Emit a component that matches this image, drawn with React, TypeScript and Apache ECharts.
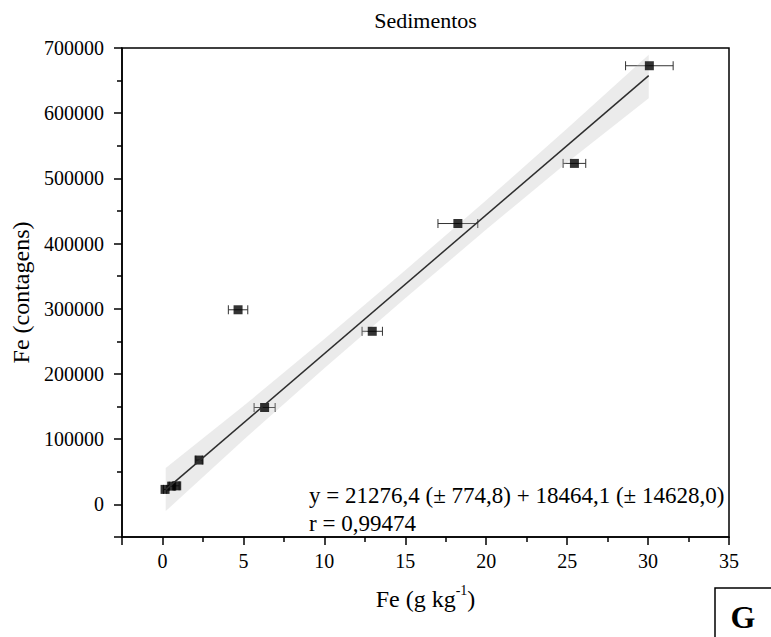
import React, { useEffect, useRef } from "react";
import * as echarts from "echarts";

// ---- data ----
const xVals = [0.16, 0.57, 0.88, 2.26, 4.67, 6.31, 12.96, 18.25, 25.45, 30.08];
const yVals = [23000, 28000, 28500, 68000, 298500, 148600, 265500, 430800, 523000, 672800];
const xErr = [0.1, 0.15, 0.15, 0.2, 0.6, 0.65, 0.63, 1.23, 0.7, 1.47];

const fitX = [0.2, 30.04];
const fitY = [22700, 657600];

const bandX = [0.2, 5, 10, 15, 20, 25, 30.04];
const bandUpper = [55700, 150800, 253700, 359100, 466500, 576400, 689700];
const bandLower = [-10300, 98800, 208700, 316100, 421500, 524400, 623000];

const titleText = "Sedimentos";
const eqLine1 = "y = 21276,4 (\u00B1 774,8) + 18464,1 (\u00B1 14628,0)";
const eqLine2 = "r = 0,99474";
const xName = "Fe (g kg";
const xNameSup = "-1";
const yName = "Fe (contagens)";
const panelLetter = "G";

const FONT = "Liberation Serif";

export default function App() {
  const ref = useRef<HTMLDivElement>(null);
  useEffect(() => {
    if (!ref.current) return;
    const chart = echarts.init(ref.current, undefined, { renderer: "svg" });
    const axisLine = { show: true, onZero: false, lineStyle: { color: "#000", width: 1.5 } };
    chart.setOption({
      animation: false,
      backgroundColor: "#fff",
      textStyle: { fontFamily: FONT },
      grid: {
        left: 122,
        right: 42,
        top: 48,
        bottom: 100,
        show: true,
        borderColor: "#000",
        borderWidth: 1.5,
        backgroundColor: "transparent",
      },
      xAxis: {
        type: "value",
        min: -2.5,
        max: 35,
        splitNumber: 8,
        axisLine,
        axisTick: { show: true, inside: false, length: 8, lineStyle: { color: "#000", width: 1.5 } },
        minorTick: { show: true, splitNumber: 2, length: 5, lineStyle: { color: "#000", width: 1.5 } },
        splitLine: { show: false },
        minorSplitLine: { show: false },
        axisLabel: {
          showMinLabel: false,
          color: "#000",
          fontFamily: FONT,
          fontSize: 20,
          margin: 14,
          formatter: (v: number) => String(v),
        },
        name: "{a|" + xName + "}{s|" + xNameSup + "}{a|)}",
        nameLocation: "middle",
        nameGap: 46,
        nameTextStyle: {
          color: "#000",
          fontFamily: FONT,
          rich: {
            a: { fontSize: 24, fontFamily: FONT, color: "#000", verticalAlign: "bottom", lineHeight: 28 },
            s: { fontSize: 14, fontFamily: FONT, color: "#000", verticalAlign: "top", lineHeight: 28, padding: [0, 0, 12, 0] },
          },
        },
      },
      yAxis: {
        type: "value",
        min: -50000,
        max: 700000,
        splitNumber: 7,
        axisLine,
        axisTick: { show: true, inside: false, length: 8, lineStyle: { color: "#000", width: 1.5 } },
        minorTick: { show: true, splitNumber: 2, length: 5, lineStyle: { color: "#000", width: 1.5 } },
        splitLine: { show: false },
        minorSplitLine: { show: false },
        axisLabel: {
          showMinLabel: false,
          color: "#000",
          fontFamily: FONT,
          fontSize: 20,
          margin: 18,
          formatter: (v: number) => String(v),
        },
        name: yName,
        nameLocation: "middle",
        nameRotate: 90,
        nameGap: 77,
        nameTextStyle: { color: "#000", fontFamily: FONT, fontSize: 24 },
      },
      series: [
        {
          type: "custom",
          name: "errors",
          data: xVals.map((x, i) => [x, yVals[i], xErr[i]]),
          encode: { x: 0, y: 1 },
          renderItem: (params: any, api: any) => {
            const x = api.value(0);
            const y = api.value(1);
            const e = api.value(2);
            const l = api.coord([x - e, y]);
            const r = api.coord([x + e, y]);
            const h = 4.5;
            const st = { stroke: "#333", lineWidth: 1 };
            return {
              type: "group",
              children: [
                { type: "line", shape: { x1: l[0], y1: l[1], x2: r[0], y2: r[1] }, style: st },
                { type: "line", shape: { x1: l[0], y1: l[1] - h, x2: l[0], y2: l[1] + h }, style: st },
                { type: "line", shape: { x1: r[0], y1: r[1] - h, x2: r[0], y2: r[1] + h }, style: st },
              ],
            };
          },
        },
        {
          type: "scatter",
          name: "points",
          data: xVals.map((x, i) => [x, yVals[i]]),
          symbol: "rect",
          symbolSize: 9,
          itemStyle: { color: "#000" },
        },
        {
          type: "custom",
          name: "band",
          data: [[bandX[0], bandLower[0]]],
          encode: { x: 0, y: 1 },
          renderItem: (params: any, api: any) => {
            const pts: number[][] = [];
            for (let i = 0; i < bandX.length; i++) pts.push(api.coord([bandX[i], bandUpper[i]]));
            for (let i = bandX.length - 1; i >= 0; i--) pts.push(api.coord([bandX[i], bandLower[i]]));
            return {
              type: "polygon",
              shape: { points: pts },
              style: { fill: "rgba(182,182,182,0.275)", stroke: "none" },
            };
          },
        },
        {
          type: "line",
          name: "fit",
          data: fitX.map((x, i) => [x, fitY[i]]),
          symbol: "none",
          lineStyle: { color: "#2e2e2e", width: 1.5 },
        },
      ],
      graphic: [
        {
          type: "text",
          x: 425.5,
          y: 20,
          style: { text: titleText, fontFamily: FONT, fontSize: 22, fill: "#000", align: "center", verticalAlign: "middle" },
        },
        {
          type: "text",
          x: 309,
          y: 495,
          style: { text: eqLine1, fontFamily: FONT, fontSize: 23, fill: "#000", align: "left", verticalAlign: "middle" },
        },
        {
          type: "text",
          x: 309,
          y: 523,
          style: { text: eqLine2, fontFamily: FONT, fontSize: 23, fill: "#000", align: "left", verticalAlign: "middle" },
        },
        {
          type: "rect",
          shape: { x: 715, y: 588, width: 70, height: 70 },
          style: { fill: "#fff", stroke: "#000", lineWidth: 1.5 },
        },
        {
          type: "text",
          x: 743,
          y: 617,
          style: { text: panelLetter, fontFamily: FONT, fontSize: 32, fontWeight: "bold", fill: "#000", align: "center", verticalAlign: "middle" },
        },
      ],
    });
    return () => chart.dispose();
  }, []);
  return <div ref={ref} style={{ position: "fixed", left: 0, top: 0, width: 771, height: 637 }} />;
}
